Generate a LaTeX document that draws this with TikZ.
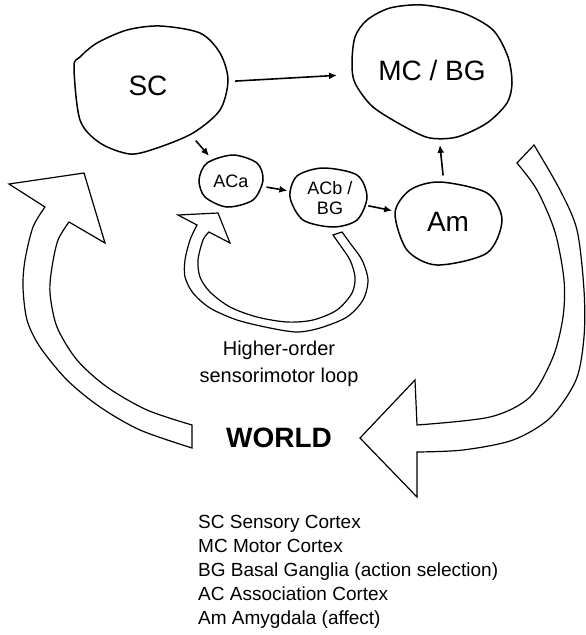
\documentclass[tikz,border=0pt]{standalone}
\usepackage{fontspec}
\setmainfont{Liberation Sans}
\usetikzlibrary{shapes.geometric,arrows.meta,positioning}

\begin{document}
\begin{tikzpicture}[x=1pt,y=-1pt,
    area/.style={ellipse,inner sep=0pt,align=center},
    blob/.style={line width=1.5pt,line join=round},
    bigarrow/.style={line width=1.2pt,line join=miter},
    link/.style={line width=1.6pt,-{Latex[length=8pt,width=7pt]}}]
  \useasboundingbox (0,0) rectangle (586,635);

  % outlines of the regions
  \draw[blob] plot[smooth cycle] coordinates {(74,67) (80,120) (100,143) (130,154) (157,148) (193,133)
      (220,110) (228,80) (220,53) (200,33) (160,26) (127,30) (97,43) (80,57)};
  \draw[blob] plot[smooth cycle] coordinates {(355,37) (367,20) (390,8) (423,5) (463,13) (493,30) (508,57)
      (512,83) (507,103) (487,123) (457,137) (430,138) (407,128) (373,107) (355,83) (352,63)};
  \draw[blob] plot[smooth cycle] coordinates {(199,180) (207,163) (233,155) (257,163) (263,180)
      (253,200) (227,207) (205,197)};
  \draw[blob] plot[smooth cycle] coordinates {(290,197) (297,176) (323,168) (357,175) (367,197)
      (357,220) (333,227) (303,220)};
  \draw[blob] plot[smooth cycle] coordinates {(395,213) (410,190) (440,182) (487,193) (502,220)
      (487,253) (437,265) (407,250)};

  % region names
  \node[area,minimum width=154pt,minimum height=127pt,font=\fontsize{28}{32}\selectfont] (sc) at (148,86) {SC};
  \node[area,minimum width=160pt,minimum height=130pt,font=\fontsize{28}{32}\selectfont] (mc) at (432,70) {MC / BG};
  \node[area,minimum width=64pt,minimum height=52pt,font=\fontsize{18}{20}\selectfont] (aca) at (231,181) {ACa};
  \node[area,minimum width=77pt,minimum height=57pt,font=\fontsize{18}{20}\selectfont] (acb) at (330,198) {ACb /\\BG};
  \node[area,minimum width=107pt,minimum height=83pt,font=\fontsize{28}{32}\selectfont] (am) at (448,222) {Am};

  \draw[link,shorten <=10pt,shorten >=15pt] (sc) -- (mc);
  \draw[link,shorten <=4pt,shorten >=5pt] (sc) -- (aca);
  \draw[link,shorten <=4pt,shorten >=5pt] (aca) -- (acb);
  \draw[link,shorten <=1pt,shorten >=4pt] (acb) -- (am);
  \draw[link,shorten <=5pt,shorten >=10pt] (am) -- (mc);

  % big loop on the left
  \draw[bigarrow] plot[smooth] coordinates {(192,448) (140,430) (100,407) (67,380) (40,347) (27,320)
      (23,287) (25,260) (33,227) (45,207)}
    -- (9,184) -- (84,173) -- (105,243) -- (69,222)
    -- plot[smooth] coordinates {(69,222) (58,240) (52,267) (50,293) (57,327) (77,360) (107,387)
      (147,410) (192,425)} -- cycle;
  % big loop on the right
  \draw[bigarrow] plot[smooth] coordinates {(534,145) (560,190) (577,230) (584,290) (584,337)
      (576,380) (550,418) (513,440) (463,450) (417,452)}
    -- (417,497) -- (360,438) -- (415,380) -- (417,425)
    -- plot[smooth] coordinates {(417,425) (490,417) (530,397) (553,357) (563,317) (564,280)
      (555,232) (537,190) (517,163)} -- cycle;
  % small loop
  \draw[bigarrow] plot[smooth] coordinates {(342,232) (350,243) (362,260) (368,280) (363,300)
      (347,317) (320,328) (297,332) (270,328) (237,320) (210,308) (193,293) (185,277) (185,260)
      (190,240) (197,225)}
    -- (178,215) -- (218,213) -- (230,243) -- (209,232)
    -- plot[smooth] coordinates {(209,232) (203,240) (198,260) (200,277) (210,292) (230,307)
      (257,317) (287,322) (313,320) (337,310) (352,293) (355,277) (350,260) (340,245) (333,235)}
    -- cycle;

  \node[align=center,font=\fontsize{20}{27}\selectfont] (loop) at (279,364) {Higher-order\\sensorimotor loop};
  \node[font=\fontsize{28}{32}\selectfont\bfseries] (world) at (279,438) {WORLD};

  \node[anchor=base west,inner sep=0pt,align=left,font=\fontsize{19}{24}\selectfont] (legend) at (198,624)
    {SC Sensory Cortex\\MC Motor Cortex\\BG Basal Ganglia (action selection)\\AC Association Cortex\\Am Amygdala (affect)};
\end{tikzpicture}
\end{document}
